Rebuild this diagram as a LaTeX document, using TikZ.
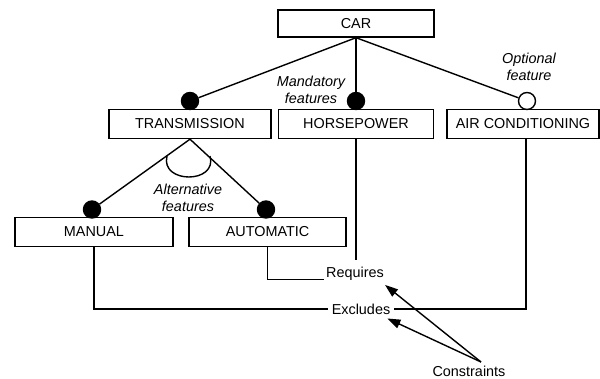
\documentclass[tikz,border=0pt]{standalone}
\usepackage{fontspec}
\setmainfont{Liberation Sans}
\usetikzlibrary{arrows.meta}
\begin{document}
\begin{tikzpicture}[x=1pt,y=-1pt,
  every node/.style={font=\fontsize{14.4}{17}\selectfont},
  box/.style={draw,line width=1.4pt,minimum height=29pt,inner sep=0pt},
  mand/.style={circle,draw,fill=black,line width=1.4pt,minimum size=17pt,inner sep=0pt},
  opt/.style={circle,draw,fill=white,line width=1.4pt,minimum size=17pt,inner sep=0pt},
  conn/.style={line width=1.4pt},
  lbl/.style={font=\fontsize{14.4}{17}\selectfont\itshape,align=center,inner sep=0pt},
  arr/.style={line width=1.4pt,-{Triangle[length=13pt,width=9pt]}}]
\useasboundingbox (0,0) rectangle (600,379);
% feature boxes
\node[box,minimum width=156pt,minimum height=27pt] (car) at (356,23.5) {CAR};
\node[box,minimum width=162pt] (trans) at (190,124) {TRANSMISSION};
\node[box,minimum width=155pt] (hp) at (356,124) {HORSEPOWER};
\node[box,minimum width=152pt] (ac) at (523,124) {AIR CONDITIONING};
\node[box,minimum width=158pt] (man) at (94,232) {MANUAL};
\node[box,minimum width=157pt] (auto) at (267.5,232) {AUTOMATIC};
% circles
\node[mand] (mt) at (190,101) {};
\node[mand] (mh) at (356,101) {};
\node[opt] (oa) at (527,101) {};
\node[mand] (mm) at (92,209.5) {};
\node[mand] (ma) at (266,209.5) {};
% tree connectors
\draw[conn] (car.south) -- (mt);
\draw[conn] (car.south) -- (mh);
\draw[conn] (car.south) -- (oa);
\draw[conn] (trans.south) -- (mm);
\draw[conn] (trans.south) -- (ma);
\draw[conn] (167,156) .. controls (160,184) and (218,184) .. (210,156);
% italic labels
\node[lbl] (lm) at (311,89.5) {Mandatory\\features};
\node[lbl] (lo) at (529,66.5) {Optional\\feature};
\node[lbl] (la) at (188,198) {Alternative\\features};
% constraints
\node[inner sep=2pt] (req) at (355,274) {Requires};
\node[inner sep=4pt] (exc) at (361,309) {Excludes};
\node[inner sep=1pt] (cons) at (469,371) {Constraints};
\coordinate (hpend) at (356,260);
\draw[conn] (hp.south) -- (hpend);
\draw[conn] (auto.south) |- ([yshift=-2pt]req.base west);
\draw[conn] (man.south) |- (exc.west);
\draw[conn] (exc.east) -| ([xshift=3pt]ac.south);
\coordinate (cs) at (481,362);
\draw[arr] (cs) -- ([xshift=-1pt,yshift=-2pt]req.south east);
\draw[arr] (cs) -- ([xshift=-7pt]exc.south east);
\end{tikzpicture}
\end{document}
